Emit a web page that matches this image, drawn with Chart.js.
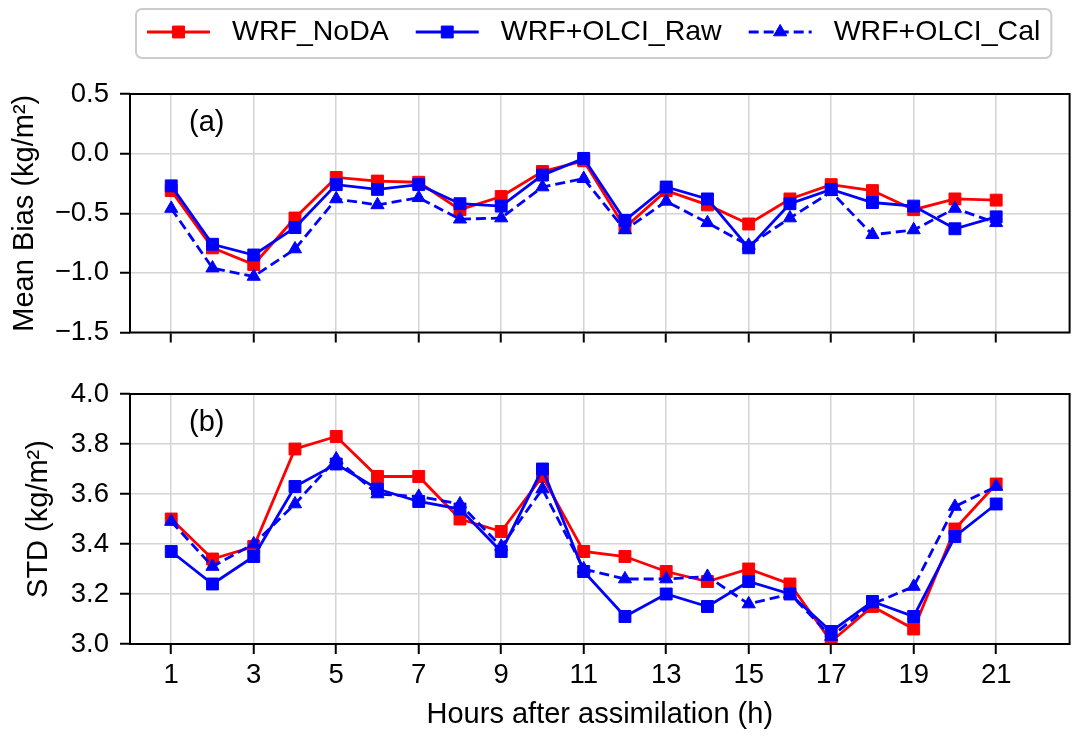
<!DOCTYPE html>
<html>
<head>
<meta charset="utf-8">
<script src="https://cdn.jsdelivr.net/npm/chart.js@4/dist/chart.umd.min.js"></script>
<style>
  html, body { margin: 0; padding: 0; background: #fff; }
  #wrap { position: relative; width: 1079px; height: 736px; }
  #wrap canvas { position: absolute; left: 0; }
  #bias { top: 0; }
  #std { top: 360px; }
</style>
</head>
<body>
<div id="wrap">
  <canvas id="bias" width="1079" height="360"></canvas>
  <canvas id="std" width="1079" height="376"></canvas>
</div>
<script>
const hours = [1, 2, 3, 4, 5, 6, 7, 8, 9, 10, 11, 12, 13, 14, 15, 16, 17, 18, 19, 20, 21];
const hourTicks = [1, 3, 5, 7, 9, 11, 13, 15, 17, 19, 21];
const biasTicks = [-1.5, -1.0, -0.5, 0.0, 0.5];
const stdTicks = [3.0, 3.2, 3.4, 3.6, 3.8, 4.0];

// mean bias (kg/m2)
const biasNoDA = [-0.31, -0.79, -0.93, -0.54, -0.20, -0.23, -0.24, -0.47, -0.36, -0.15, -0.06,
  -0.62, -0.31, -0.43, -0.59, -0.38, -0.26, -0.31, -0.47, -0.38, -0.39];
const biasRaw = [-0.27, -0.76, -0.85, -0.62, -0.26, -0.30, -0.26, -0.42, -0.44, -0.18, -0.04,
  -0.56, -0.28, -0.38, -0.79, -0.42, -0.30, -0.41, -0.44, -0.63, -0.53];
const biasCal = [-0.46, -0.96, -1.03, -0.80, -0.38, -0.43, -0.37, -0.55, -0.54, -0.28, -0.21,
  -0.64, -0.40, -0.58, -0.77, -0.54, -0.32, -0.68, -0.64, -0.46, -0.58];

// standard deviation (kg/m2)
const stdNoDA = [3.50, 3.34, 3.39, 3.78, 3.83, 3.67, 3.67, 3.50, 3.45, 3.67, 3.37,
  3.35, 3.29, 3.25, 3.30, 3.24, 3.01, 3.15, 3.06, 3.46, 3.64];
const stdRaw = [3.37, 3.24, 3.35, 3.63, 3.72, 3.62, 3.57, 3.54, 3.37, 3.70, 3.29,
  3.11, 3.20, 3.15, 3.25, 3.20, 3.05, 3.17, 3.11, 3.43, 3.56];
const stdCal = [3.49, 3.31, 3.40, 3.56, 3.74, 3.60, 3.59, 3.56, 3.39, 3.62, 3.30,
  3.26, 3.26, 3.27, 3.16, 3.20, 3.03, 3.16, 3.23, 3.55, 3.63];

const FONT = "'Liberation Sans', Arial, sans-serif";
const RED = "#ff0000";
const BLUE = "#0000ff";
const TICK_SIZE = 27.5;
const LABEL_SIZE = 29;
const LEGEND_SIZE = 28.5;

function series(values) {
  return hours.map((h, i) => ({x: h, y: values[i]}));
}

function makeDatasets(noda, raw, cal) {
  const common = {
    borderWidth: 2.8,
    pointBorderWidth: 1,
    tension: 0,
    clip: 0
  };
  return [
    {...common, label: "WRF_NoDA", data: series(noda), borderColor: RED, backgroundColor: RED,
      pointStyle: "rect", pointRadius: 8.4, order: 3},
    {...common, label: "WRF+OLCI_Raw", data: series(raw), borderColor: BLUE, backgroundColor: BLUE,
      pointStyle: "rect", pointRadius: 8.4, order: 2},
    {...common, label: "WRF+OLCI_Cal", data: series(cal), borderColor: BLUE, backgroundColor: BLUE,
      borderDash: [10, 5], pointStyle: "triangle", pointRadius: 7.6, order: 1}
  ];
}

function fmt(v) {
  const s = Math.abs(v).toFixed(1);
  return v < -1e-9 ? "\u2212" + s : s;
}

// black box round the plot area plus the panel tag
const frame = {
  id: "frame",
  afterDatasetsDraw(chart, args, opts) {
    const {ctx, chartArea: a} = chart;
    ctx.save();
    ctx.strokeStyle = "#000";
    ctx.lineWidth = 2;
    ctx.strokeRect(a.left, a.top, a.right - a.left, a.bottom - a.top);
    ctx.font = `${LABEL_SIZE}px ${FONT}`;
    ctx.fillStyle = "#000";
    ctx.textBaseline = "middle";
    ctx.fillText(opts.tag, a.left + 59, a.top + 29);
    ctx.restore();
  }
};

// one-row legend above the upper panel
const legendRow = {
  id: "legendRow",
  afterDraw(chart) {
    const ctx = chart.ctx;
    const sets = chart.data.datasets;
    const sample = 63, textGap = 22, colGap = 27;
    const y = 32;
    ctx.save();
    ctx.font = `${LEGEND_SIZE}px ${FONT}`;
    const widths = sets.map(d => ctx.measureText(d.label).width);
    const inner = sets.length * (sample + textGap) + widths.reduce((a, b) => a + b, 0) + colGap * (sets.length - 1);
    const left = 136, top = 9, h = 49, w = inner + 22;

    ctx.beginPath();
    ctx.roundRect(left, top, w, h, 6);
    ctx.fillStyle = "rgba(255,255,255,0.9)";
    ctx.fill();
    ctx.strokeStyle = "#cccccc";
    ctx.lineWidth = 2;
    ctx.stroke();

    let x = left + 11;
    sets.forEach((d, i) => {
      ctx.strokeStyle = d.borderColor;
      ctx.fillStyle = d.backgroundColor;
      ctx.lineWidth = d.borderWidth;
      ctx.setLineDash(d.borderDash || []);
      ctx.beginPath();
      ctx.moveTo(x, y);
      ctx.lineTo(x + sample, y);
      ctx.stroke();
      ctx.setLineDash([]);
      ctx.lineWidth = d.pointBorderWidth;
      Chart.helpers.drawPoint(ctx, {pointStyle: d.pointStyle, radius: d.pointRadius, rotation: 0, borderWidth: 1},
        x + sample / 2, y);
      x += sample + textGap;
      ctx.fillStyle = "#000";
      ctx.textBaseline = "middle";
      ctx.fillText(d.label, x, y);
      x += widths[i] + colGap;
    });
    ctx.restore();
  }
};

function panelOptions(cfg) {
  const grid = {
    color: "#d4d4d4",
    lineWidth: 1.5,
    tickLength: 10,
    tickColor: "#000",
    tickWidth: 2
  };
  return {
    responsive: false,
    animation: false,
    events: [],
    layout: {padding: {top: cfg.padTop, right: 1, left: 0, bottom: 0}},
    plugins: {
      legend: {display: false},
      tooltip: {enabled: false},
      frame: {tag: cfg.tag}
    },
    scales: {
      x: {
        type: "linear",
        min: 0,
        max: 22.78,
        afterBuildTicks: s => { s.ticks = hourTicks.map(v => ({value: v})); },
        afterFit: s => { s.height = cfg.xHeight; },
        grid: grid,
        border: {display: false},
        ticks: {
          display: cfg.showX,
          autoSkip: false,
          maxRotation: 0,
          padding: 5,
          color: "#000",
          font: {family: FONT, size: TICK_SIZE}
        },
        title: {
          display: cfg.showX,
          text: "Hours after assimilation (h)",
          color: "#000",
          font: {family: FONT, size: LABEL_SIZE},
          padding: {top: 0, bottom: 4}
        }
      },
      y: {
        type: "linear",
        min: cfg.yTicks[0],
        max: cfg.yTicks[cfg.yTicks.length - 1],
        afterBuildTicks: s => { s.ticks = cfg.yTicks.map(v => ({value: v})); },
        afterFit: s => { s.width = 130; },
        grid: grid,
        border: {display: false},
        ticks: {
          padding: 11,
          color: "#000",
          font: {family: FONT, size: TICK_SIZE},
          callback: v => fmt(v)
        },
        title: {
          display: true,
          text: cfg.yTitle,
          color: "#000",
          font: {family: FONT, size: LABEL_SIZE},
          padding: {top: cfg.yTitlePad, bottom: 0}
        }
      }
    }
  };
}

new Chart(document.getElementById("bias"), {
  type: "line",
  data: {datasets: makeDatasets(biasNoDA, biasRaw, biasCal)},
  options: panelOptions({
    tag: "(a)", padTop: 94, xHeight: 16, showX: false,
    yTicks: biasTicks, yTitle: "Mean Bias (kg/m\u00b2)", yTitlePad: 8
  }),
  plugins: [frame, legendRow]
});

new Chart(document.getElementById("std"), {
  type: "line",
  data: {datasets: makeDatasets(stdNoDA, stdRaw, stdCal)},
  options: panelOptions({
    tag: "(b)", padTop: 34, xHeight: 92, showX: true,
    yTicks: stdTicks, yTitle: "STD (kg/m\u00b2)", yTitlePad: 22
  }),
  plugins: [frame]
});
</script>
</body>
</html>
